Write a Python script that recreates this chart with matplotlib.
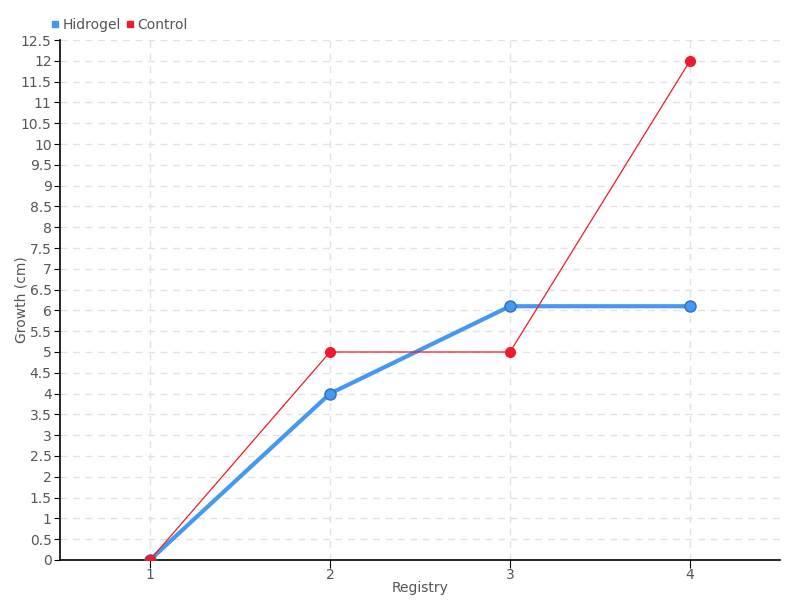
import matplotlib
matplotlib.use("Agg")
import matplotlib.pyplot as plt
import numpy as np

registry = [1, 2, 3, 4]
hidrogel = [0, 4, 6.1, 6.1]
control = [0, 5, 5, 12]

C_BLUE = "#4499ee"
C_RED = "#ee1b2c"
C_TEXT = "#555555"

plt.rcParams["font.family"] = ["Liberation Sans Narrow", "DejaVu Sans"]

fig = plt.figure(figsize=(8, 6), dpi=100)
ax = fig.add_axes([0.075, 0.0667, 0.9, 0.8666])

ax.plot(registry, hidrogel, color=C_BLUE, lw=3, marker="o", ms=8,
        mfc=C_BLUE, mec="#2f6fc0", mew=1, zorder=3, label="Hidrogel")
ax.plot(registry, control, color=C_RED, lw=0.9, marker="o", ms=7,
        mfc=C_RED, mec=C_RED, zorder=4, label="Control")

ax.set_xlim(0.5, 4.5)
ax.set_ylim(0, 12.5)
ax.set_xticks(registry)
ax.set_yticks(np.arange(0, 12.51, 0.5))
ax.set_yticklabels([f"{v:g}" for v in np.arange(0, 12.51, 0.5)])

ax.grid(True, color="#e2e2e2", ls=(0, (5, 4)), lw=1)
ax.set_axisbelow(True)
for s in ("top", "right"):
    ax.spines[s].set_visible(False)
for s in ("left", "bottom"):
    ax.spines[s].set_color("black")
    ax.spines[s].set_linewidth(1.2)
ax.tick_params(axis="y", colors="black", labelcolor=C_TEXT,
               labelsize=10, length=4, pad=2, direction="out")
ax.tick_params(axis="x", colors="black", labelcolor=C_TEXT,
               labelsize=10, length=6, pad=0, direction="out")

ax.set_xlabel("Registry", color=C_TEXT, fontsize=10)
ax.set_ylabel("Growth (cm)", color=C_TEXT, fontsize=10)
ax.xaxis.set_label_coords(0.5, -0.04)
ax.yaxis.set_label_coords(-0.044, 0.5)

leg = ax.legend(loc="lower left", bbox_to_anchor=(-0.02, 1.005), ncol=2,
                frameon=False, fontsize=10, handlelength=0.5,
                handletextpad=0.3, columnspacing=0.4, borderaxespad=0)
for h, c in zip(leg.legend_handles, [C_BLUE, C_RED]):
    h.set_linestyle("none")
    h.set_marker("s")
    h.set_markersize(5)
    h.set_markerfacecolor(c)
    h.set_markeredgecolor(c)
for t in leg.get_texts():
    t.set_color(C_TEXT)

fig.savefig("out.png", dpi=100)
